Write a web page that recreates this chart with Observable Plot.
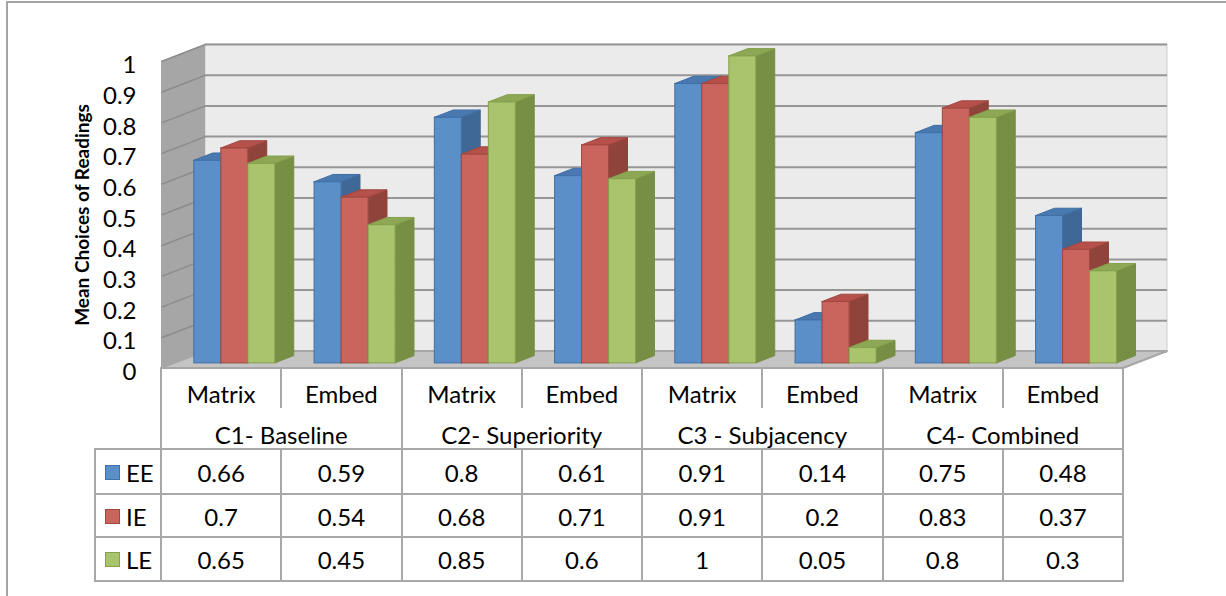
<!DOCTYPE html>
<html>
<head>
<meta charset="utf-8">
<script src="https://cdn.jsdelivr.net/npm/d3@7"></script>
<script src="https://cdn.jsdelivr.net/npm/@observablehq/plot@0.6"></script>
<style>
  body { margin: 0; background: #fff; font-family: Lato, "Open Sans", sans-serif; }
  #chart { position: relative; width: 1226px; height: 596px; overflow: hidden; background: #fff; }
  #border { position: absolute; left: 6px; top: 1px; width: 1260px; height: 640px;
            border-left: 2px solid #a4a4a4; border-top: 2px solid #a4a4a4; }
  #plot { position: absolute; left: 0; top: 0; }
  .ln { position: absolute; background: #a8a8a8; }
  .txt { position: absolute; height: 30px; line-height: 30px; text-align: center;
         font-size: 24px; color: #000; white-space: nowrap; }
  .key { position: absolute; width: 15px; height: 15px; box-sizing: border-box; border: 1px solid; }
</style>
</head>
<body>
<div id="chart">
  <div id="border"></div>
  <div id="plot"></div>
  <div id="table"></div>
</div>
<script>
// Conditions and sentence types
const groups = ["C1- Baseline", "C2- Superiority", "C3 - Subjacency", "C4- Combined"];
const conditions = ["Matrix", "Embed"];
const series = ["EE", "IE", "LE"];

// Mean choices per category (C1 Matrix, C1 Embed, C2 Matrix, ...)
const valuesEE = [0.66, 0.59, 0.8, 0.61, 0.91, 0.14, 0.75, 0.48];
const valuesIE = [0.7, 0.54, 0.68, 0.71, 0.91, 0.2, 0.83, 0.37];
const valuesLE = [0.65, 0.45, 0.85, 0.6, 1, 0.05, 0.8, 0.3];

const yTicks = [0, 0.1, 0.2, 0.3, 0.4, 0.5, 0.6, 0.7, 0.8, 0.9, 1];
const yTitle = "Mean Choices of Readings";

// Shading of each series: front face, top face, side face, outline
const palette = {
  front: ["#5b8fc8", "#c9655c", "#a9c46c"],
  top:   ["#4a79b0", "#b5514a", "#8ea754"],
  side:  ["#3f6896", "#8f433b", "#778e45"],
  edge:  ["#3e6fa6", "#a0473f", "#84a04c"]
};

// Layout of the plotting frame (front plane of the 3-D box)
const W = 1226, H = 372, mL = 161, mR = 103, mT = 61, mB = 4;
const valueRows = [valuesEE, valuesIE, valuesLE];
const nCat = valuesEE.length;
const kx = (W - mL - mR) / nCat;       // pixels per category
const ky = (H - mT - mB);              // pixels per unit of y
const wallDX = 44 / kx, wallDY = 17 / ky;   // depth of the box, in data units
const barFront = 0.3, barDepth = 0.43;      // bar slab position within the depth
const barW = 27 / kx;
const bdx = barDepth * wallDX, bdy = barDepth * wallDY;

// One record per bar, already shifted onto the bar plane
const bars = [];
valueRows.forEach((vals, s) => vals.forEach((v, c) => {
  const x1 = c + 0.5 + (s - 1.5) * barW + barFront * wallDX;
  const y0 = barFront * wallDY;
  bars.push({id: `${c}-${s}`, s, x1, x2: x1 + barW, y0, top: v + y0});
}));

const sides = bars.flatMap(b => [
  {id: b.id, s: b.s, x: b.x2, y1: b.y0, y2: b.top},
  {id: b.id, s: b.s, x: b.x2 + bdx, y1: b.y0 + bdy, y2: b.top + bdy}
]);
const tops = bars.flatMap(b => [
  {id: b.id, s: b.s, y: b.top, x1: b.x1, x2: b.x2},
  {id: b.id, s: b.s, y: b.top + bdy, x1: b.x1 + bdx, x2: b.x2 + bdx}
]);

const leftWall = [
  {x: 0, y1: 0, y2: 1},
  {x: wallDX, y1: wallDY, y2: 1 + wallDY}
];
const floor = [
  {y: 0, x1: 0, x2: nCat},
  {y: wallDY, x1: wallDX, x2: nCat + wallDX}
];

const chart = Plot.plot({
  width: W, height: H,
  marginLeft: mL, marginRight: mR, marginTop: mT, marginBottom: mB,
  x: {domain: [0, nCat], axis: null},
  y: {domain: [0, 1], axis: null},
  color: {type: "identity"},
  style: {background: "transparent", overflow: "visible"},
  marks: [
    // back wall
    Plot.rect([0], {x1: () => wallDX, x2: () => nCat + wallDX, y1: () => wallDY, y2: () => 1 + wallDY,
                    fill: "#ebebeb", stroke: "#cdcdcd", strokeWidth: 1}),
    // left wall
    Plot.areaY(leftWall, {x: "x", y1: "y1", y2: "y2", fill: "#a6a6a6"}),
    // gridlines on the back wall and on the left wall
    Plot.ruleY(yTicks, {y: t => t + wallDY, x1: () => wallDX, x2: () => nCat + wallDX,
                        stroke: "#969696", strokeWidth: 2}),
    Plot.link(yTicks, {x1: () => 0, y1: t => t, x2: () => wallDX, y2: t => t + wallDY,
                       stroke: "#8c8c8c", strokeWidth: 1.5}),
    // floor
    Plot.areaX(floor, {y: "y", x1: "x1", x2: "x2", fill: "#c4c4c4", stroke: "#a6a6a6", strokeWidth: 2}),
    // bars: side faces, top faces, then front faces
    Plot.areaY(sides, {x: "x", y1: "y1", y2: "y2", z: "id",
                       fill: d => palette.side[d.s], stroke: d => palette.side[d.s], strokeWidth: 1}),
    Plot.areaX(tops, {y: "y", x1: "x1", x2: "x2", z: "id",
                      fill: d => palette.top[d.s], stroke: d => palette.edge[d.s], strokeWidth: 1}),
    Plot.rect(bars, {x1: "x1", x2: "x2", y1: "y0", y2: "top",
                     fill: d => palette.front[d.s], stroke: d => palette.edge[d.s], strokeWidth: 1}),
    // y tick labels and title
    Plot.text(yTicks, {frameAnchor: "left", y: t => t, text: t => String(t), textAnchor: "end",
                       dx: -25, dy: 4, fontSize: 24, fontFamily: "Lato", fill: "#000"}),
    Plot.text([yTitle], {frameAnchor: "left", text: d => d, rotate: -90, dx: -79, textAnchor: "middle",
                         fontSize: 19, fontWeight: "bold", fontFamily: "Lato", fill: "#000"})
  ]
});
document.getElementById("plot").appendChild(chart);

// Data table beneath the chart
const table = document.getElementById("table");
const x0 = mL, colW = kx, keyLeft = 95;
const rowTop = 368, catBottom = 408, headBottom = 449;
const rowEdges = [449, 494, 537, 581];
const tableRight = x0 + nCat * colW;

function line(x, y, w, h) {
  const d = document.createElement("div");
  d.className = "ln";
  Object.assign(d.style, {left: x + "px", top: y + "px", width: w + "px", height: h + "px"});
  table.appendChild(d);
}
function label(text, cx, cy, w) {
  const d = document.createElement("div");
  d.className = "txt";
  d.textContent = text;
  Object.assign(d.style, {left: (cx - w / 2) + "px", top: (cy - 15) + "px", width: w + "px"});
  table.appendChild(d);
  return d;
}

// vertical rules
for (let i = 0; i <= nCat; i++) {
  const x = x0 + i * colW - 1;
  if (i % 2 === 0) line(x, rowTop, 2, rowEdges[3] - rowTop + 1);
  else { line(x, rowTop, 2, catBottom - rowTop); line(x, headBottom, 2, rowEdges[3] - headBottom + 1); }
}
line(keyLeft - 1, headBottom, 2, rowEdges[3] - headBottom + 1);
// horizontal rules
rowEdges.forEach(y => line(keyLeft - 1, y - 1, tableRight - keyLeft + 2, 2));

// category and group labels
const categoryNames = groups.flatMap(() => conditions);
categoryNames.forEach((c, i) => label(c, x0 + (i + 0.5) * colW, 394, colW));
groups.forEach((g, i) => label(g, x0 + (2 * i + 1) * colW, 435, 2 * colW));

// series rows
valueRows.forEach((vals, s) => {
  const cy = (rowEdges[s] + rowEdges[s + 1]) / 2 + 1;
  const k = document.createElement("div");
  k.className = "key";
  Object.assign(k.style, {left: "105px", top: (cy - 8) + "px",
                          background: palette.front[s], borderColor: palette.edge[s]});
  table.appendChild(k);
  const t = label(series[s], 127, cy, 40);
  t.style.textAlign = "left";
  t.style.left = "126px";
  vals.forEach((v, c) => label(String(v), x0 + (c + 0.5) * colW, cy, colW));
});
</script>
</body>
</html>
